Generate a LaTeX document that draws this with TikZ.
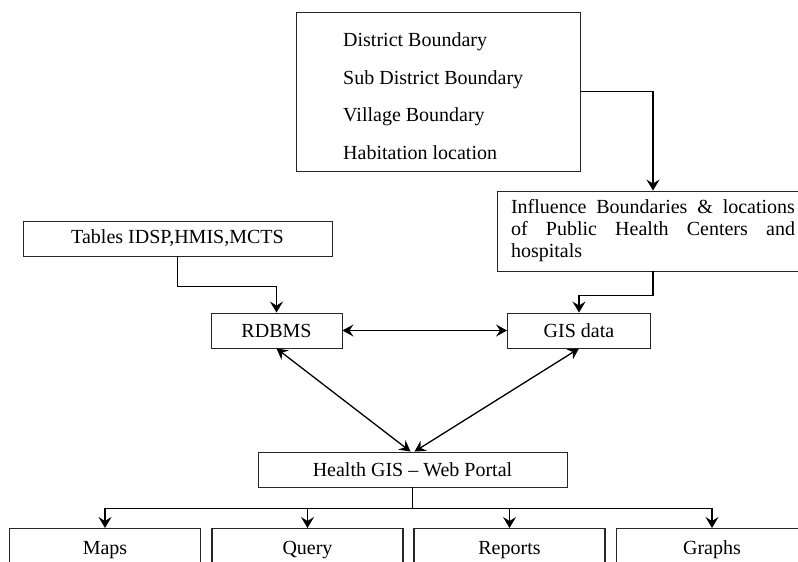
\documentclass[tikz,border=0pt]{standalone}
\usepackage{fontspec}
\setmainfont{Liberation Serif}
\usetikzlibrary{arrows.meta}
\tikzset{
  box/.style={draw=black!85, line width=0.9pt, rectangle, inner sep=0pt, font=\fontsize{20}{24}\selectfont},
  txt/.style={inner sep=0pt, font=\fontsize{20}{24}\selectfont},
  tip/.style={Stealth[length=11pt,width=13pt,inset=4pt]},
  conn/.style={line width=1.3pt, -{Stealth[length=11pt,width=13pt,inset=4pt]}},
  dconn/.style={line width=1.3pt, {Stealth[length=11pt,width=12pt,inset=4pt]}-{Stealth[length=11pt,width=12pt,inset=4pt]}},
}
\begin{document}
\begin{tikzpicture}[x=1pt,y=-1pt]
\clip (0,0) rectangle (798,562);
\fill[white] (0,0) rectangle (798,562);

% top box
\node[box, minimum width=284pt, minimum height=159pt] (top) at (438,91.5) {};
\node[txt, anchor=base west] (t1) at (343,46.7) {District Boundary};
\node[txt, anchor=base west] (t2) at (343,84.2) {Sub District Boundary};
\node[txt, anchor=base west] (t3) at (343,121.7) {Village Boundary};
\node[txt, anchor=base west] (t4) at (343,159.2) {Habitation location};

% influence box
\node[box, minimum width=312pt, minimum height=80pt, inner xsep=14pt, align=left,
      font=\fontsize{20}{22}\selectfont] (infl) at (653,231)
  {\makebox[284pt][s]{Influence Boundaries \& locations}\\
   \makebox[284pt][s]{of Public Health Centers and}\\
   hospitals};

% tables
\node[box, minimum width=309pt, minimum height=35pt] (tables) at (177.5,238.5) {Tables IDSP,HMIS,MCTS};

% RDBMS / GIS
\node[box, minimum width=131pt, minimum height=35pt] (rdbms) at (276.5,330.5) {RDBMS};
\node[box, minimum width=143pt, minimum height=35pt] (gis) at (579,330.5) {GIS data};

% portal
\node[box, minimum width=309pt, minimum height=35pt] (portal) at (412.5,469.5) {Health GIS -- Web Portal};

% bottom boxes
\tikzset{bot/.style={box, line width=1.3pt, anchor=north, minimum width=191pt, text height=14pt, text depth=4pt, inner ysep=12pt}}
\node[bot] (maps) at (105,528) {Maps};
\node[bot] (query) at (307.5,528) {Query};
\node[bot] (reports) at (509.5,528) {Reports};
\node[bot] (graphs) at (712,528) {Graphs};

% connectors
\draw[conn] (top.east) -| (infl.north);
\draw[conn] (infl.south) -- ++(0,24) -| (gis.north);
\draw[conn] (tables.south) -- ++(0,30) -| (rdbms.north);
\draw[dconn] (rdbms.east) -- (gis.west);
\draw[dconn] (rdbms.south) -- ([xshift=-2pt]portal.north);
\draw[dconn] (gis.south) -- ([xshift=2pt]portal.north);
\draw[conn] (portal.south) -- ++(0,21) -| (maps.north);
\draw[conn] (portal.south) -- ++(0,21) -| (query.north);
\draw[conn] (portal.south) -- ++(0,21) -| (reports.north);
\draw[conn] (portal.south) -- ++(0,21) -| (graphs.north);
\end{tikzpicture}
\end{document}
